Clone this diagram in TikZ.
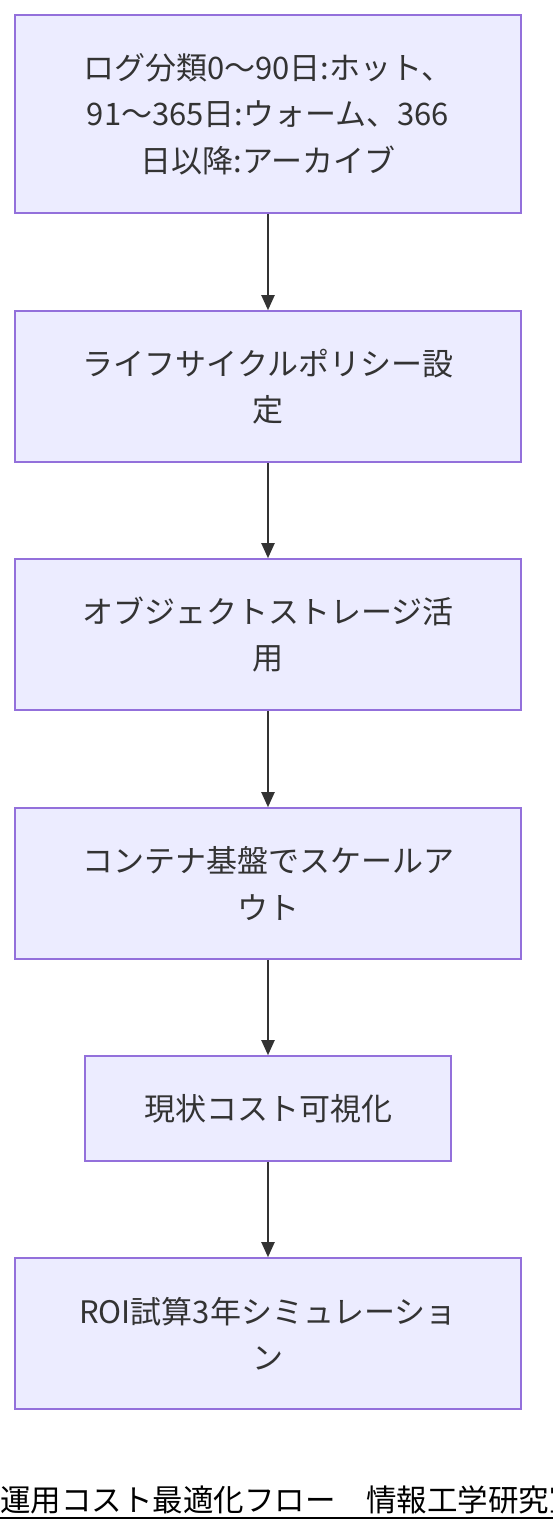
\documentclass[tikz,border=0pt]{standalone}
\usepackage{fontspec}
\newfontfamily\jp{Noto Sans CJK JP}
\usetikzlibrary{arrows.meta}
\definecolor{nodefill}{HTML}{ECECFF}
\definecolor{nodeborder}{HTML}{9370DB}
\definecolor{ink}{HTML}{333333}
\tikzset{
  flowbox/.style={draw=nodeborder, fill=nodefill, line width=1.6pt, inner sep=0pt,
    text=ink, align=center, font=\jp\fontsize{31}{46.5}\selectfont,
    minimum width=506pt, minimum height=151pt},
  flowarrow/.style={draw=ink, line width=2pt, -{Triangle[length=15pt,width=13pt]}},
}
\begin{document}
\begin{tikzpicture}[x=1pt,y=-1pt]
\useasboundingbox (0,0) rectangle (552,1532);
\node[flowbox, minimum height=198pt] (n1) at (268,114) {ログ分類0～90日:ホット、\\91～365日:ウォーム、366\\日以降:アーカイブ};
\node[flowbox] (n2) at (268,386.5) {ライフサイクルポリシー設\\定};
\node[flowbox] (n3) at (268,634.5) {オブジェクトストレージ活\\用};
\node[flowbox] (n4) at (268,883.5) {コンテナ基盤でスケールア\\ウト};
\node[flowbox, minimum width=366pt, minimum height=105pt] (n5) at (268,1108.5) {現状コスト可視化};
\node[flowbox] (n6) at (268,1333.5) {ROI試算3年シミュレーショ\\ン};
\draw[flowarrow] (n1.south) -- (n2.north);
\draw[flowarrow] (n2.south) -- (n3.north);
\draw[flowarrow] (n3.south) -- (n4.north);
\draw[flowarrow] (n4.south) -- (n5.north);
\draw[flowarrow] (n5.south) -- (n6.north);
\node[anchor=base west, inner sep=0pt, text=black, font=\jp\fontsize{30.5}{36}\selectfont] (title) at (0,1511) {運用コスト最適化フロー　情報工学研究室};
\coordinate (ulA) at (0,1518);
\coordinate (ulB) at (560,1518);
\draw[black, line width=2pt] (ulA) -- (ulB);
\end{tikzpicture}
\end{document}
